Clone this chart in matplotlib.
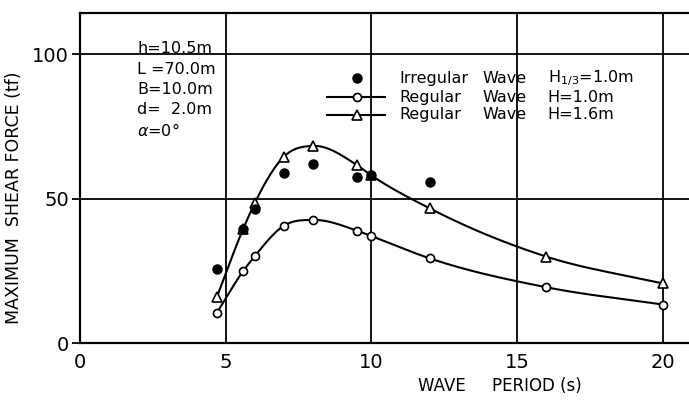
import numpy as np
import matplotlib.pyplot as plt

# wave period (s) and maximum shear force (tf)
period_irr = [4.7, 5.6, 6.0, 7.0, 8.0, 9.5, 10.0, 12.0]
force_irr = [25.7, 39.3, 46.3, 58.7, 61.8, 57.5, 58.2, 55.8]

period_reg = [4.7, 5.6, 6.0, 7.0, 8.0, 9.5, 10.0, 12.0, 16.0, 20.0]
force_h10 = [10.5, 24.9, 30.1, 40.6, 42.6, 38.9, 37.0, 29.3, 19.3, 13.3]
force_h16 = [16.0, 39.5, 48.5, 64.5, 68.2, 61.6, 58.0, 46.6, 29.9, 20.6]

params = ["h=10.5m", "L =70.0m", "B=10.0m", "d=  2.0m", r"$\alpha$=0$\degree$"]
legend_kind = ["Irregular", "Regular", "Regular"]
legend_h = [r"H$_{1/3}$=1.0m", "H=1.0m", "H=1.6m"]

plt.rcParams["font.family"] = ["DejaVu Sans"]


def smooth(x, y, n=30):
    # piecewise cubic hermite through the points, just for drawing the curve
    x = np.asarray(x, float)
    y = np.asarray(y, float)
    h = np.diff(x)
    d = np.diff(y) / h
    m = np.zeros_like(y)
    m[1:-1] = (h[1:] * d[:-1] + h[:-1] * d[1:]) / (h[:-1] + h[1:])
    m[0] = d[0]
    m[-1] = d[-1]
    xs, ys = [], []
    for i in range(len(x) - 1):
        t = np.linspace(0, 1, n)
        h00 = 2 * t**3 - 3 * t**2 + 1
        h10 = t**3 - 2 * t**2 + t
        h01 = -2 * t**3 + 3 * t**2
        h11 = t**3 - t**2
        xs.append(x[i] + t * h[i])
        ys.append(h00 * y[i] + h10 * h[i] * m[i] + h01 * y[i + 1] + h11 * h[i] * m[i + 1])
    return np.concatenate(xs), np.concatenate(ys)


fig = plt.figure(figsize=(6.89, 4.01), dpi=100)
ax = fig.add_axes([0.1161, 0.1446, 0.884, 0.823])

lw = 1.5
for f in [force_h10, force_h16]:
    sx, sy = smooth(period_reg, f)
    ax.plot(sx, sy, color="black", lw=lw, zorder=3)
ax.plot(period_reg, force_h10, "o", ms=5.8, mfc="white", mec="black", mew=1.2, zorder=4)
ax.plot(period_reg, force_h16, "^", ms=7, mfc="white", mec="black", mew=1.2, zorder=4)
ax.plot(period_irr, force_irr, "o", ms=6.5, color="black", zorder=5)

ax.set_xlim(0, 20.9)
ax.set_ylim(0, 114.2)
ax.set_xticks([0, 5, 10, 15, 20])
ax.set_yticks([0, 50, 100])
for v in [5, 10, 15, 20]:
    ax.axvline(v, color="black", lw=1.3, zorder=1)
for v in [50, 100]:
    ax.axhline(v, color="black", lw=1.3, zorder=1)

ax.spines["right"].set_visible(False)
for s in ["left", "bottom", "top"]:
    ax.spines[s].set_linewidth(1.6)
ax.tick_params(axis="x", length=0, labelsize=14, pad=7)
ax.tick_params(axis="y", length=6, width=1.3, labelsize=14, pad=2)

ax.set_ylabel("MAXIMUM  SHEAR FORCE (tf)", fontsize=12.5)
ax.yaxis.set_label_coords(-0.094, 0.44)
ax.set_xlabel("WAVE     PERIOD (s)", fontsize=12)
ax.xaxis.set_label_coords(0.69, -0.104)

# parameter block
for i, s in enumerate(params):
    ax.text(0.094, 0.891 - i * 0.0615, s, transform=ax.transAxes,
            fontsize=11.5, va="center", ha="left")

# legend drawn by hand so the columns line up
rows = [0.803, 0.745, 0.691]
for i, y in enumerate(rows):
    if i == 0:
        ax.plot([0.455], [y], "o", ms=6.5, color="black", transform=ax.transAxes, clip_on=False)
    else:
        mk = "o" if i == 1 else "^"
        ax.plot([0.406, 0.501], [y, y], color="black", lw=lw, transform=ax.transAxes)
        ax.plot([0.455], [y], mk, ms=5.8 if i == 1 else 6.5, mfc="white", mec="black",
                mew=1.2, transform=ax.transAxes)
    ax.text(0.524, y, legend_kind[i], transform=ax.transAxes, fontsize=11.5, va="center")
    ax.text(0.660, y, "Wave", transform=ax.transAxes, fontsize=11.5, va="center")
    ax.text(0.768, y, legend_h[i], transform=ax.transAxes, fontsize=11.5, va="center")

fig.savefig("out.png", dpi=100)
